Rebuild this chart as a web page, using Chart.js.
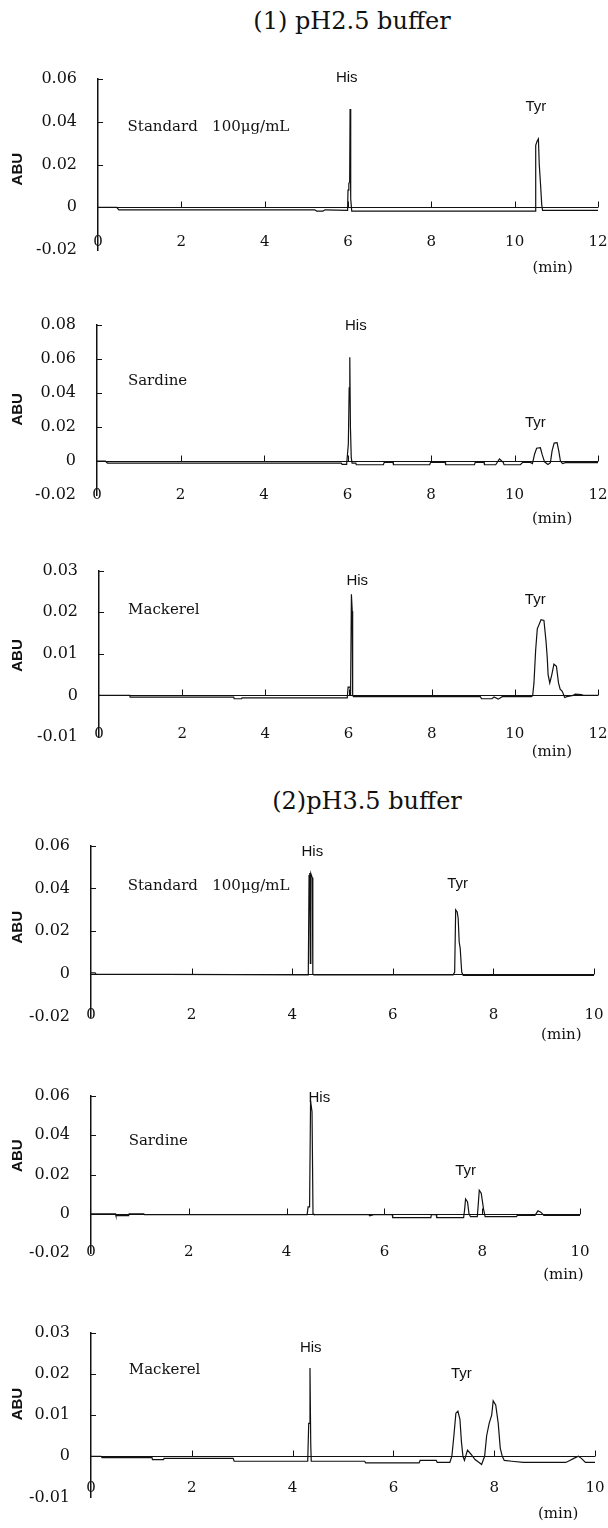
<!DOCTYPE html>
<html>
<head>
<meta charset="utf-8">
<script src="https://cdn.jsdelivr.net/npm/chart.js@4"></script>
<style>
  html, body { margin: 0; padding: 0; background: #fff; }
  body { width: 608px; height: 1528px; position: relative; overflow: hidden; }
  .title { position: absolute; width: 400px; text-align: center; font-family: "DejaVu Serif", serif; font-size: 24px; line-height: 30px; color: #111; }
  canvas { position: absolute; left: 0; }
</style>
</head>
<body>
<div class="title" style="left:152px; top:6px;">(1) pH2.5 buffer</div>
<div class="title" style="left:167px; top:786px;">(2)pH3.5 buffer</div>
<canvas id="c1" width="620" height="245" style="top:40px"></canvas>
<canvas id="c2" width="620" height="250" style="top:285px"></canvas>
<canvas id="c3" width="620" height="240" style="top:540px"></canvas>
<canvas id="c4" width="620" height="245" style="top:815px"></canvas>
<canvas id="c5" width="620" height="240" style="top:1060px"></canvas>
<canvas id="c6" width="620" height="228" style="top:1300px"></canvas>
<script>
// axis ticks
const xTicks12 = [0, 2, 4, 6, 8, 10, 12];
const xTicks10 = [0, 2, 4, 6, 8, 10];
const yTicks06 = [-0.02, 0, 0.02, 0.04, 0.06];
const yLabels06 = ["-0.02", "0", "0.02", "0.04", "0.06"];
const yTicks08 = [-0.02, 0, 0.02, 0.04, 0.06, 0.08];
const yLabels08 = ["-0.02", "0", "0.02", "0.04", "0.06", "0.08"];
const yTicks03 = [-0.01, 0, 0.01, 0.02, 0.03];
const yLabels03 = ["-0.01", "0", "0.01", "0.02", "0.03"];

// traces: [time (min), absorbance (ABU)]
// (1) pH2.5 buffer
const std25 = [
  [0, 0], [0.45, 0], [0.5, -0.0012], [5.2, -0.0012], [5.25, -0.0018], [5.4, -0.0018],
  [5.45, -0.0012], [5.99, -0.0015], [6.0, 0.008], [6.02, 0.011], [6.04, 0.012], [6.05, 0.046],
  [6.065, 0.004], [6.09, -0.0018], [10.49, -0.0018], [10.5, 0], [10.51, 0.029], [10.54, 0.031],
  [10.57, 0.032], [10.59, 0.02], [10.62, 0.011], [10.65, 0.001], [10.67, -0.0015], [12, -0.0015]
];
const sardine25 = [
  [0, 0], [0.2, 0], [0.25, -0.0012], [5.85, -0.0012], [5.87, -0.002], [5.98, -0.002],
  [6.02, 0.01], [6.04, 0.043], [6.055, 0.061], [6.07, 0.02], [6.09, 0.002], [6.11, -0.0012],
  [6.2, -0.0012], [6.21, -0.0022], [6.86, -0.0022], [6.88, -0.0008], [7.09, -0.0008], [7.1, -0.0022],
  [7.97, -0.0022], [7.99, -0.0008], [8.34, -0.0008], [8.35, -0.0022], [9.04, -0.0022], [9.06, -0.0008],
  [9.27, -0.0008], [9.28, -0.0022], [9.55, -0.0022], [9.64, 0.0012], [9.73, -0.0008], [9.75, -0.0022],
  [10.14, -0.0022], [10.2, -0.0008], [10.38, -0.0008], [10.43, -0.0015], [10.48, 0.004], [10.53, 0.0075],
  [10.62, 0.0078], [10.66, 0.004], [10.72, -0.0005], [10.8, -0.002], [10.86, -0.001], [10.9, 0.006],
  [10.95, 0.0105], [11.02, 0.0108], [11.06, 0.006], [11.1, 0], [11.15, -0.0015], [11.22, -0.001], [12, -0.001]
];
const mackerel25 = [
  [0, 0], [0.74, 0], [0.75, -0.0004], [3.24, -0.0004], [3.25, -0.0008], [3.43, -0.0008],
  [3.44, -0.0006], [5.97, -0.0006], [5.99, 0.002], [6.04, 0.002], [6.05, 0], [6.07, 0.0243],
  [6.09, 0.0202], [6.1, 0], [6.12, -0.0003], [9.17, -0.0003], [9.2, -0.0008], [9.45, -0.0008],
  [9.5, -0.0004], [9.6, -0.0009], [9.7, -0.0003], [10.4, -0.0003], [10.43, 0], [10.46, 0.003],
  [10.5, 0.0108], [10.54, 0.016], [10.63, 0.0182], [10.7, 0.018], [10.75, 0.013], [10.78, 0.009],
  [10.8, 0.005], [10.84, 0.003], [10.89, 0.005], [10.94, 0.0075], [11.0, 0.007], [11.05, 0.003],
  [11.09, 0.0015], [11.14, 0.001], [11.2, -0.0005], [11.25, -0.0003], [11.4, 0], [11.45, 0.0003],
  [11.6, 0.0002], [11.65, 0], [12, 0]
];
// (2) pH3.5 buffer
const std35 = [
  [0, 0.0006], [0.08, 0.0006], [0.1, 0], [4.32, -0.0003], [4.335, 0.046], [4.35, 0.0472],
  [4.36, 0.005], [4.37, 0.047], [4.4, 0.045], [4.41, 0], [4.43, -0.0003], [7.2, -0.0003],
  [7.23, 0.001], [7.25, 0.03], [7.28, 0.029], [7.3, 0.026], [7.32, 0.015], [7.34, 0.012],
  [7.37, 0.001], [7.4, -0.0006], [10, -0.0006]
];
const sardine35 = [
  [0, 0], [0.5, 0], [0.51, -0.001], [0.77, -0.001], [0.78, 0], [1.08, 0],
  [1.09, -0.0004], [4.42, -0.0004], [4.44, 0.0035], [4.47, 0.0035], [4.49, 0.0575], [4.52, 0.052],
  [4.54, 0], [4.56, -0.0004], [5.68, -0.0004], [5.7, -0.001], [5.8, -0.0004], [6.16, -0.0004],
  [6.17, -0.002], [6.95, -0.002], [6.96, -0.0004], [7.06, -0.0004], [7.07, -0.002], [7.62, -0.002],
  [7.64, 0.002], [7.66, 0.0075], [7.7, 0.006], [7.73, 0], [7.76, -0.0015], [7.9, -0.0015],
  [7.92, 0.005], [7.94, 0.012], [7.98, 0.0105], [8.03, 0.002], [8.06, -0.0015], [8.7, -0.0015],
  [8.72, -0.0008], [9.08, -0.0008], [9.14, 0.0015], [9.2, 0.0008], [9.26, -0.0008], [10, -0.0008]
];
const mackerel35 = [
  [0, 0], [0.2, 0], [0.22, -0.0003], [1.21, -0.0003], [1.22, -0.0008], [1.44, -0.0008],
  [1.45, -0.0005], [2.82, -0.0005], [2.84, -0.0012], [4.3, -0.0012], [4.32, 0.008], [4.335, 0.008],
  [4.345, 0.0215], [4.36, 0.003], [4.37, -0.0012], [5.43, -0.0012], [5.45, -0.0016], [6.51, -0.0016],
  [6.53, -0.001], [6.85, -0.001], [6.87, -0.0015], [7.12, -0.0015], [7.16, 0], [7.2, 0.005],
  [7.24, 0.0105], [7.28, 0.011], [7.32, 0.009], [7.35, 0.0035], [7.38, 0], [7.41, -0.001],
  [7.47, 0.0015], [7.54, 0.0005], [7.62, -0.0008], [7.7, -0.0015], [7.75, -0.002], [7.81, 0],
  [7.85, 0.005], [7.9, 0.008], [7.95, 0.01], [7.98, 0.0135], [8.03, 0.0125], [8.08, 0.008],
  [8.12, 0.002], [8.16, 0], [8.2, -0.001], [8.35, -0.0012], [8.58, -0.0015], [9.42, -0.0015],
  [9.5, -0.001], [9.58, -0.0005], [9.67, 0], [9.73, -0.0005], [9.81, -0.0015], [10, -0.0015]
];

const INK = '#111';
const SERIF = '"DejaVu Serif", serif';
const SANS = '"Liberation Sans", Arial, sans-serif';

// page layout of each panel (pixels) and its notes (placed in data units)
// xPad: mirrored tick-label padding, puts the minute labels near the bottom of the y axis
const panels = [
  { id: 'c1', top: 40, height: 245, left: 98, right: 598, yTop: 79, yBottom: 250, xPad: -1,
    trace: std25, xTicks: xTicks12, yTicks: yTicks06, yLabels: yLabels06, abuAt: 0.0178,
    notes: [['His', 5.97, 0.0605, 'peak'], ['Tyr', 10.51, 0.047, 'peak'],
            ['Standard   100μg/mL', 0.71, 0.0375, 'name'], ['(min)', 10.91, -0.0286, 'unit']] },
  { id: 'c2', top: 285, height: 250, left: 97, right: 598, yTop: 325, yBottom: 495, xPad: -9,
    trace: sardine25, xTicks: xTicks12, yTicks: yTicks08, yLabels: yLabels08, abuAt: 0.0304,
    notes: [['His', 6.2, 0.0795, 'peak'], ['Tyr', 10.5, 0.0224, 'peak'],
            ['Sardine', 0.74, 0.047, 'name'], ['(min)', 10.9, -0.0339, 'unit']] },
  { id: 'c3', top: 540, height: 240, left: 99, right: 598, yTop: 570, yBottom: 737, xPad: -6,
    trace: mackerel25, xTicks: xTicks12, yTicks: yTicks03, yLabels: yLabels03, abuAt: 0.0096,
    notes: [['His', 6.21, 0.0276, 'peak'], ['Tyr', 10.49, 0.023, 'peak'],
            ['Mackerel', 0.7, 0.0204, 'name'], ['(min)', 10.89, -0.0137, 'unit']] },
  { id: 'c4', top: 815, height: 245, left: 91, right: 594, yTop: 845, yBottom: 1017, xPad: -7,
    trace: std35, xTicks: xTicks10, yTicks: yTicks06, yLabels: yLabels06, abuAt: 0.0219,
    notes: [['His', 4.4, 0.0572, 'peak'], ['Tyr', 7.29, 0.0423, 'peak'],
            ['Standard   100μg/mL', 0.73, 0.041, 'name'], ['(min)', 9.35, -0.0284, 'unit']] },
  { id: 'c5', top: 1060, height: 240, left: 91, right: 580, yTop: 1096, yBottom: 1253, xPad: -8,
    trace: sardine35, xTicks: xTicks10, yTicks: yTicks06, yLabels: yLabels06, abuAt: 0.0296,
    notes: [['His', 4.67, 0.059, 'peak'], ['Tyr', 7.66, 0.0218, 'peak'],
            ['Sardine', 0.77, 0.037, 'name'], ['(min)', 9.66, -0.0312, 'unit']] },
  { id: 'c6', top: 1300, height: 228, left: 91, right: 595, yTop: 1333, yBottom: 1503, xPad: 0,
    trace: mackerel35, xTicks: xTicks10, yTicks: yTicks03, yLabels: yLabels03, abuAt: 0.0127,
    notes: [['His', 4.36, 0.0265, 'peak'], ['Tyr', 7.35, 0.0201, 'peak'],
            ['Mackerel', 0.75, 0.0209, 'name'], ['(min)', 9.27, -0.014, 'unit']] }
];

const noteFont = {
  peak: '15px ' + SANS,
  name: '15px ' + SERIF,
  unit: '15px ' + SERIF
};

// baseline at zero with its ticks, inward ticks on the y axis, and the text notes
function chromPlugin(cfg) {
  return {
    id: 'chrom',
    beforeDatasetsDraw(chart) {
      const { ctx, chartArea, scales: { x, y } } = chart;
      const y0 = Math.round(y.getPixelForValue(0)) + 0.5;
      ctx.save();
      ctx.strokeStyle = INK;
      ctx.lineWidth = 1;
      ctx.beginPath();
      ctx.moveTo(chartArea.left, y0);
      ctx.lineTo(x.getPixelForValue(x.max), y0);
      cfg.xTicks.slice(1).forEach(v => {
        const px = Math.round(x.getPixelForValue(v)) + 0.5;
        ctx.moveTo(px, y0);
        ctx.lineTo(px, y0 - 6);
      });
      cfg.yTicks.filter(v => v > y.min).forEach(v => {
        const py = Math.round(y.getPixelForValue(v)) + 0.5;
        ctx.moveTo(chartArea.left, py);
        ctx.lineTo(chartArea.left + 5, py);
      });
      ctx.stroke();
      ctx.restore();
    },
    afterDatasetsDraw(chart) {
      const { ctx, scales: { x, y } } = chart;
      ctx.save();
      ctx.fillStyle = INK;
      ctx.textBaseline = 'middle';
      cfg.notes.forEach(([text, tx, ty, kind]) => {
        ctx.font = noteFont[kind];
        ctx.textAlign = kind === 'name' ? 'left' : 'center';
        ctx.fillText(text, x.getPixelForValue(tx), y.getPixelForValue(ty));
      });
      // axis title
      ctx.translate(18, y.getPixelForValue(cfg.abuAt));
      ctx.rotate(-Math.PI / 2);
      ctx.font = 'bold 15px ' + SANS;
      ctx.textAlign = 'center';
      ctx.fillText('ABU', 0, 0);
      ctx.restore();
    }
  };
}

function makeChart(cfg) {
  const xMax = cfg.xTicks[cfg.xTicks.length - 1];
  const canvas = document.getElementById(cfg.id);
  return new Chart(canvas, {
    type: 'line',
    data: {
      datasets: [{
        data: cfg.trace,
        borderColor: INK,
        borderWidth: 1.2,
        pointRadius: 0,
        tension: 0,
        fill: false
      }]
    },
    options: {
      responsive: false,
      animation: false,
      events: [],
      layout: {
        padding: {
          top: cfg.yTop - cfg.top,
          bottom: cfg.top + cfg.height - cfg.yBottom - 20,
          left: 0,
          right: 620 - cfg.right
        }
      },
      scales: {
        x: {
          type: 'linear',
          min: 0,
          max: xMax,
          afterBuildTicks: s => { s.ticks = cfg.xTicks.map(v => ({ value: v })); },
          afterFit: s => { s.height = 20; },
          grid: { display: false, drawTicks: false },
          border: { display: false },
          ticks: {
            autoSkip: false,
            maxRotation: 0,
            mirror: true,
            padding: cfg.xPad,
            color: INK,
            font: { family: SERIF, size: 15 },
            callback: v => String(v)
          }
        },
        y: {
          min: cfg.yTicks[0],
          max: cfg.yTicks[cfg.yTicks.length - 1],
          afterBuildTicks: s => { s.ticks = cfg.yTicks.map(v => ({ value: v })); },
          afterFit: s => { s.width = cfg.left; },
          grid: { display: false, drawTicks: false },
          border: { display: true, color: INK, width: 1.5 },
          ticks: {
            autoSkip: false,
            padding: 21,
            color: INK,
            font: { family: SERIF, size: 16 },
            callback: (v, i) => cfg.yLabels[i]
          }
        }
      },
      plugins: {
        legend: { display: false },
        tooltip: { enabled: false }
      }
    },
    plugins: [chromPlugin(cfg)]
  });
}

panels.forEach(makeChart);
</script>
</body>
</html>
